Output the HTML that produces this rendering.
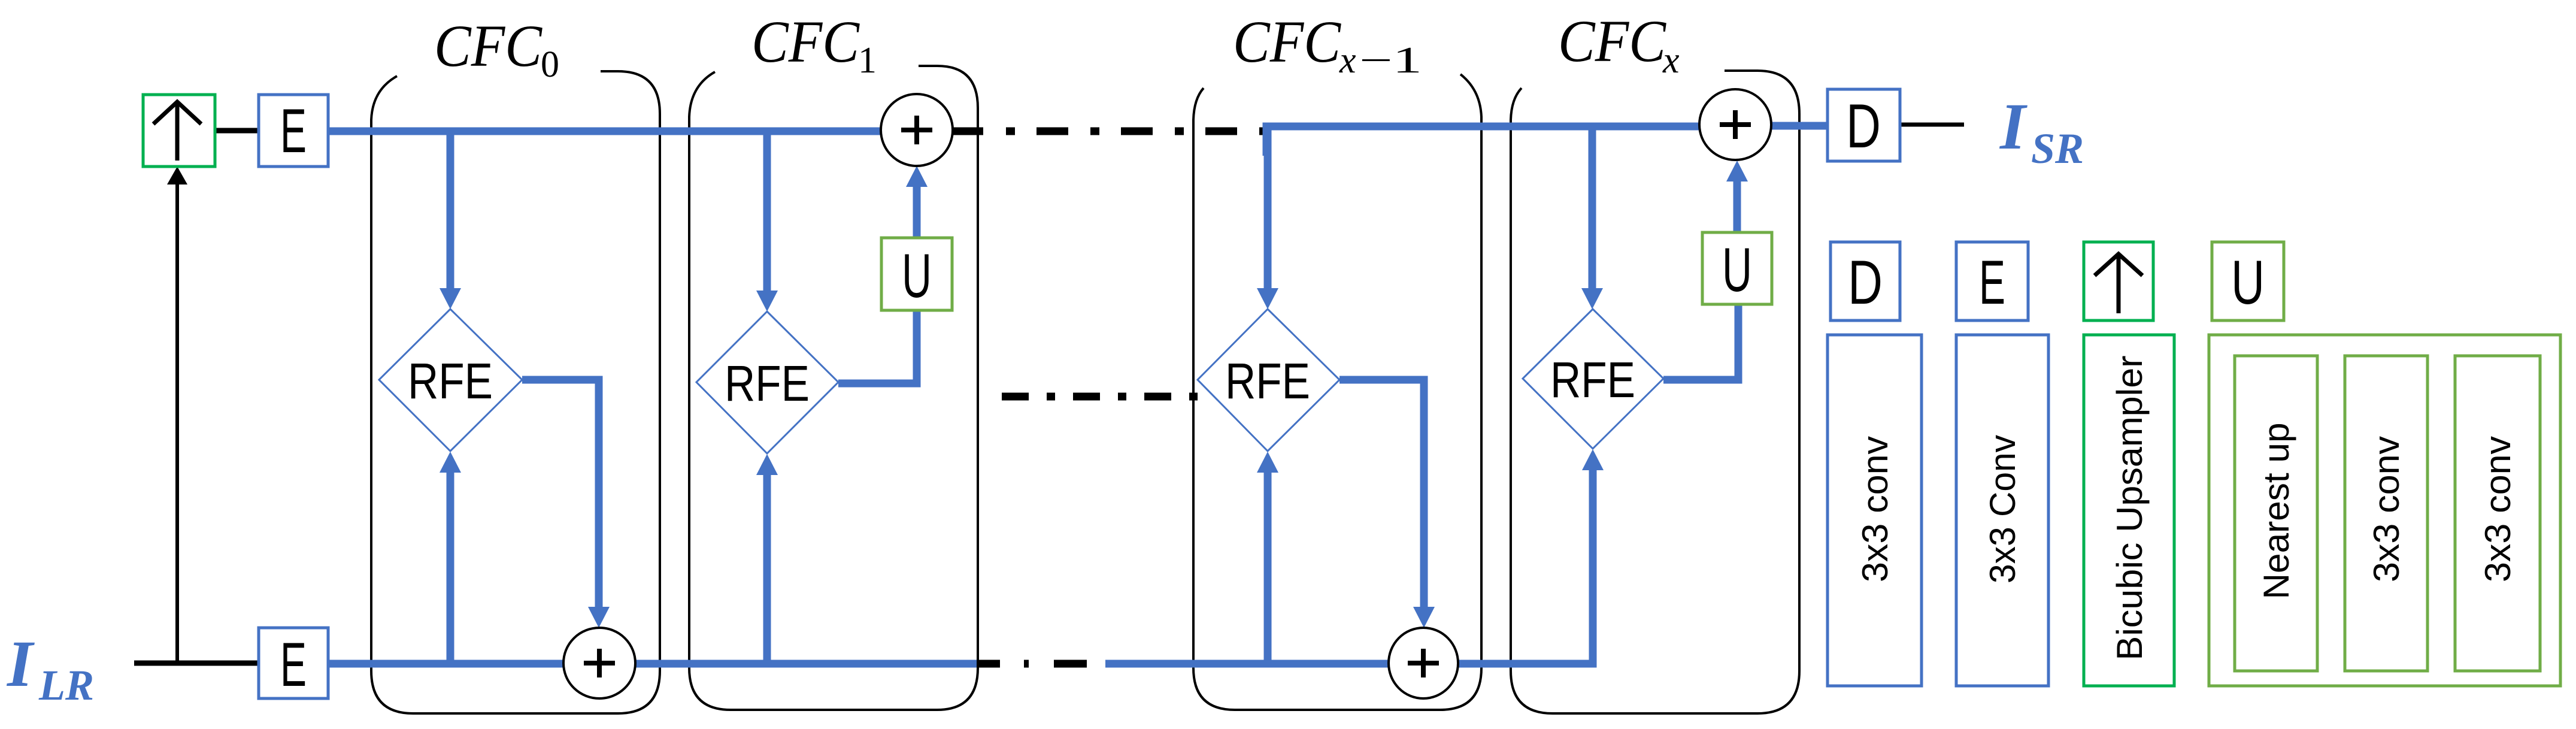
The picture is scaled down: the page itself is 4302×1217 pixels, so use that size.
<!DOCTYPE html>
<html><head><meta charset="utf-8"><style>
html,body{margin:0;padding:0;background:#fff;}
svg{display:block}
</style></head><body>
<svg width="4302" height="1217" viewBox="0 0 4302 1217" xmlns="http://www.w3.org/2000/svg">
<g fill="none" stroke="#000" stroke-width="4">
<path d="M663 127 Q622 150 620 200 L620 1120 Q620 1191 690 1191 L1032 1191 Q1102 1191 1102 1120 L1102 190 Q1102 119 1032 119 L1003 119"/>
<path d="M1194 120 Q1153 143 1151 195 L1151 1115 Q1151 1185 1220 1185 L1565 1185 Q1633 1185 1633 1115 L1633 180 Q1633 110 1565 110 L1534 110"/>
<path d="M2010 147 Q1994 165 1993 200 L1993 1115 Q1993 1185 2062 1185 L2405 1185 Q2474 1185 2474 1115 L2474 195 Q2472 150 2439 124"/>
<path d="M2541 147 Q2524 165 2523 200 L2523 1120 Q2523 1191 2593 1191 L2935 1191 Q3005 1191 3005 1120 L3005 190 Q3005 118 2935 118 L2880 118"/>
</g>
<line x1="224" y1="1107" x2="432" y2="1107" stroke="#000" stroke-width="9"/>
<line x1="296" y1="1107" x2="296" y2="305" stroke="#000" stroke-width="6"/>
<path d="M279 308 L296 278 L313 308Z" fill="#000"/>
<line x1="359" y1="218" x2="432" y2="218" stroke="#000" stroke-width="9"/>
<line x1="3173" y1="208" x2="3280" y2="208" stroke="#000" stroke-width="7"/>
<g stroke="#000" stroke-width="13">
<line x1="1590" y1="219" x2="1642" y2="219"/>
<line x1="1680" y1="219" x2="2115" y2="219" stroke-dasharray="15 36 53 37"/>
<line x1="1673" y1="662" x2="2000" y2="662" stroke-dasharray="45 30 14 30"/>
<line x1="1631" y1="1108" x2="1670" y2="1108"/>
<line x1="1710" y1="1108" x2="1718" y2="1108"/>
<line x1="1760" y1="1108" x2="1815" y2="1108"/>
</g>
<g stroke="#4472c4" stroke-width="13" fill="none">
<line x1="548" y1="219" x2="1472" y2="219"/>
<polyline points="2115,260 2115,211 2840,211"/>
<line x1="2958" y1="210" x2="3052" y2="210"/>
<line x1="548" y1="1108" x2="941" y2="1108"/>
<line x1="1061" y1="1108" x2="1631" y2="1108"/>
<line x1="1846" y1="1108" x2="2319" y2="1108"/>
<polyline points="2435,1108 2660,1108 2660,785"/>
<line x1="752" y1="219" x2="752" y2="482"/>
<line x1="1281" y1="219" x2="1281" y2="486"/>
<line x1="2117" y1="211" x2="2117" y2="482"/>
<line x1="2659" y1="211" x2="2659" y2="482"/>
<line x1="752" y1="1108" x2="752" y2="788"/>
<line x1="1281" y1="1108" x2="1281" y2="792"/>
<line x1="2117" y1="1108" x2="2117" y2="788"/>
<polyline points="872,634 1000,634 1000,1013"/>
<polyline points="1400,640 1531,640 1531,518"/>
<line x1="1531" y1="397" x2="1531" y2="311"/>
<polyline points="2237,634 2378,634 2378,1013"/>
<polyline points="2778,634 2903,634 2903,508"/>
<line x1="2901" y1="388" x2="2901" y2="302"/>
</g>
<g fill="#4472c4">
<path d="M734 481 L752 516 L770 481Z"/>
<path d="M1263 485 L1281 520 L1299 485Z"/>
<path d="M2099 481 L2117 516 L2135 481Z"/>
<path d="M2641 481 L2659 516 L2677 481Z"/>
<path d="M734 789 L752 754 L770 789Z"/>
<path d="M1263 793 L1281 758 L1299 793Z"/>
<path d="M2099 789 L2117 754 L2135 789Z"/>
<path d="M2642 785 L2660 750 L2678 785Z"/>
<path d="M982 1013 L1000 1048 L1018 1013Z"/>
<path d="M2360 1013 L2378 1048 L2396 1013Z"/>
<path d="M1513 312 L1531 277 L1549 312Z"/>
<path d="M2883 303 L2901 268 L2919 303Z"/>
</g>
<g fill="#fff" stroke="#4472c4" stroke-width="3">
<path d="M752 516 L872 634 L752 753 L633 634Z"/>
<path d="M1281 520 L1400 638 L1281 757 L1163 638Z"/>
<path d="M2117 516 L2237 634 L2117 753 L2000 634Z"/>
<path d="M2660 516 L2778 632 L2660 749 L2543 632Z"/>
</g>
<g font-family="Liberation Sans, sans-serif" font-size="84" text-anchor="middle" fill="#000">
<text x="752" y="665" textLength="142" lengthAdjust="spacingAndGlyphs">RFE</text>
<text x="1281" y="669" textLength="142" lengthAdjust="spacingAndGlyphs">RFE</text>
<text x="2117" y="665" textLength="142" lengthAdjust="spacingAndGlyphs">RFE</text>
<text x="2660" y="663" textLength="142" lengthAdjust="spacingAndGlyphs">RFE</text>
</g>
<g fill="#fff" stroke="#000" stroke-width="4">
<ellipse cx="1531" cy="217" rx="60" ry="60"/>
<ellipse cx="2898" cy="208" rx="60" ry="59"/>
<ellipse cx="1001" cy="1107" rx="60" ry="59"/>
<ellipse cx="2377" cy="1107" rx="58" ry="59"/>
</g>
<g stroke="#000" stroke-width="8">
<path d="M1505 217 H1557 M1531 193 V241"/>
<path d="M2872 208 H2924 M2898 184 V232"/>
<path d="M975 1107 H1027 M1001 1083 V1131"/>
<path d="M2351 1107 H2403 M2377 1083 V1131"/>
</g>
<g fill="#fff" stroke-width="5">
<rect x="239" y="158" width="120" height="120" stroke="#00b050"/>
<rect x="432" y="158" width="116" height="120" stroke="#4472c4"/>
<rect x="432" y="1048" width="116" height="118" stroke="#4472c4"/>
<rect x="1472" y="397" width="118" height="121" stroke="#70ad47"/>
<rect x="2843" y="388" width="116" height="120" stroke="#70ad47"/>
<rect x="3052" y="149" width="121" height="120" stroke="#4472c4"/>
<rect x="3057" y="404" width="116" height="131" stroke="#4472c4"/>
<rect x="3267" y="404" width="120" height="131" stroke="#4472c4"/>
<rect x="3480" y="404" width="116" height="131" stroke="#00b050"/>
<rect x="3694" y="404" width="120" height="131" stroke="#70ad47"/>
<rect x="3052" y="559" width="157" height="586" stroke="#4472c4"/>
<rect x="3267" y="559" width="154" height="586" stroke="#4472c4"/>
<rect x="3480" y="559" width="151" height="586" stroke="#00b050"/>
<rect x="3689" y="559" width="587" height="586" stroke="#70ad47"/>
<rect x="3732" y="594" width="138" height="526" stroke="#70ad47"/>
<rect x="3916" y="594" width="138" height="526" stroke="#70ad47"/>
<rect x="4100" y="594" width="142" height="526" stroke="#70ad47"/>
</g>
<g stroke="#000" stroke-width="7" fill="none">
<path d="M296 268 V170 M256 207 L296 170 L336 207"/>
<path d="M3538 523 V424 M3498 460 L3538 424 L3578 460"/>
</g>
<g font-family="Liberation Sans, sans-serif" font-size="104" text-anchor="middle" fill="#000">
<text x="490" y="254" textLength="44" lengthAdjust="spacingAndGlyphs">E</text>
<text x="490" y="1145" textLength="44" lengthAdjust="spacingAndGlyphs">E</text>
<text x="1531" y="496" textLength="50" lengthAdjust="spacingAndGlyphs">U</text>
<text x="2901" y="486" textLength="50" lengthAdjust="spacingAndGlyphs">U</text>
<text x="3112" y="246" textLength="58" lengthAdjust="spacingAndGlyphs">D</text>
<text x="3115" y="507" textLength="58" lengthAdjust="spacingAndGlyphs">D</text>
<text x="3327" y="507" textLength="44" lengthAdjust="spacingAndGlyphs">E</text>
<text x="3754" y="507" textLength="56" lengthAdjust="spacingAndGlyphs">U</text>
</g>
<g font-family="Liberation Sans, sans-serif" font-size="60" text-anchor="middle" fill="#000">
<text transform="translate(3152,850) rotate(-90)" textLength="244" lengthAdjust="spacingAndGlyphs">3x3 conv</text>
<text transform="translate(3365,850) rotate(-90)" textLength="248" lengthAdjust="spacingAndGlyphs">3x3 Conv</text>
<text transform="translate(3577,848) rotate(-90)" textLength="509" lengthAdjust="spacingAndGlyphs">Bicubic Upsampler</text>
<text transform="translate(3822,853) rotate(-90)" textLength="295" lengthAdjust="spacingAndGlyphs">Nearest up</text>
<text transform="translate(4006,850) rotate(-90)" textLength="244" lengthAdjust="spacingAndGlyphs">3x3 conv</text>
<text transform="translate(4192,850) rotate(-90)" textLength="244" lengthAdjust="spacingAndGlyphs">3x3 conv</text>
</g>
<g font-family="Liberation Serif, serif" font-style="italic" fill="#000">
<text x="725" y="110" font-size="100" textLength="180" lengthAdjust="spacingAndGlyphs">CFC</text>
<text x="903" y="128" font-size="62" font-style="normal">0</text>
<text x="1255" y="103" font-size="100" textLength="180" lengthAdjust="spacingAndGlyphs">CFC</text>
<text x="1433" y="121" font-size="62" font-style="normal">1</text>
<text x="2059" y="103" font-size="100" textLength="180" lengthAdjust="spacingAndGlyphs">CFC</text>
<text x="2237" y="121" font-size="62">x</text>
<text x="2270" y="121" font-size="62" font-style="normal" textLength="105" lengthAdjust="spacingAndGlyphs">−1</text>
<text x="2602" y="102" font-size="100" textLength="180" lengthAdjust="spacingAndGlyphs">CFC</text>
<text x="2777" y="121" font-size="62">x</text>
</g>
<g font-family="Liberation Serif, serif" font-style="italic" font-weight="bold" fill="#4472c4">
<text x="12" y="1145" font-size="110">I</text>
<text x="65" y="1168" font-size="72">LR</text>
<text x="3340" y="248" font-size="110">I</text>
<text x="3392" y="272" font-size="72">SR</text>
</g>
</svg>
</body></html>
